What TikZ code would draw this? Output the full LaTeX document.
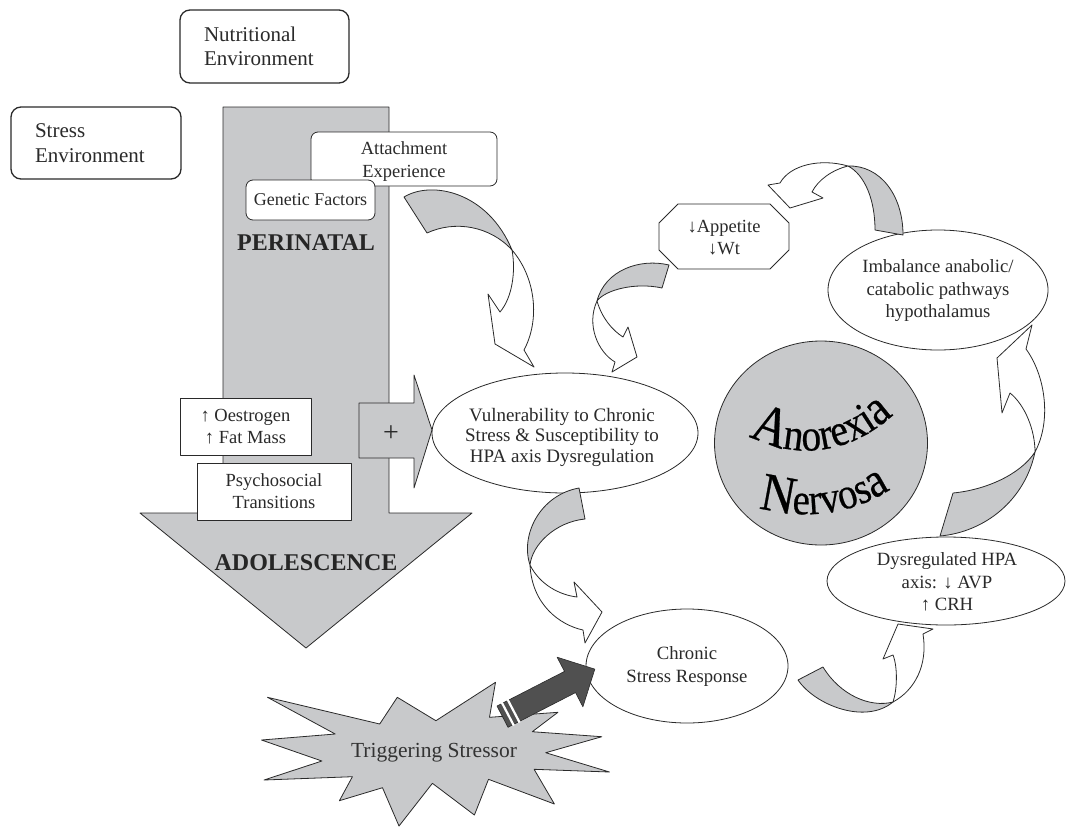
\documentclass[tikz,border=0pt]{standalone}
\usepackage{fontspec}
\setmainfont{Liberation Serif}
\newfontfamily\wordart[FakeStretch=0.88,FakeBold=0.5]{Liberation Serif}
\usetikzlibrary{decorations.text,shapes.geometric}
\definecolor{lgrey}{HTML}{C8C9CB}
\definecolor{dgrey}{HTML}{505050}
\definecolor{ink}{HTML}{2A2A2A}
\begin{document}
\begin{tikzpicture}[x=1pt,y=-1pt,line join=round,
  envbox/.style={draw=ink,line width=1.3pt,rounded corners=10pt,fill=white,align=left,inner xsep=0pt,text=ink,font=\fontsize{21}{24.5}\selectfont},
  smallbox/.style={draw=ink,line width=0.8pt,rounded corners=7pt,fill=white,align=center,inner sep=0pt,text=ink,font=\fontsize{18.5}{22.5}\selectfont},
  sqbox/.style={draw=ink,line width=0.8pt,fill=white,align=center,inner sep=0pt,text=ink,font=\fontsize{18.5}{22}\selectfont},
  oval/.style={draw=ink,line width=0.8pt,ellipse,fill=white,inner sep=0pt},
  txt/.style={align=center,inner sep=0pt,text=ink,font=\fontsize{18.7}{22.5}\selectfont},
  back/.style={draw=ink,line width=0.8pt,fill=lgrey},
  front/.style={draw=ink,line width=0.8pt,fill=white},
  bigtxt/.style={inner sep=0pt,text=black!85,font=\fontsize{24}{28}\selectfont\bfseries}
]
\useasboundingbox (0,0) rectangle (1067,827);

% big timeline arrow
\draw[ink,line width=0.8pt,fill=lgrey] (223,107) -- (389,107) -- (389,513) -- (472,513) -- (306,648) -- (140,513) -- (223,513) -- cycle;

% environment boxes
\node[envbox,minimum width=169,minimum height=73,text width=121] (nut) at (264.5,46.5) {Nutritional\\Environment};
\node[envbox,minimum width=170,minimum height=72,text width=122] (stress) at (96,143) {Stress\\Environment};

% boxes on the arrow
\node[smallbox,minimum width=186,minimum height=54] (attach) at (404,159) {};
\node[txt,font=\fontsize{18.5}{23}\selectfont] at (404,161.5) {Attachment\\Experience};
\node[smallbox,minimum width=129,minimum height=40,font=\fontsize{18}{22}\selectfont] (genetic) at (310.5,200) {Genetic Factors};
\node[bigtxt] (peri) at (306,243) {PERINATAL};
\node[sqbox,minimum width=131,minimum height=57] (oest) at (245.5,426.5) {↑ Oestrogen\\↑ Fat Mass};
\node[sqbox,minimum width=154,minimum height=57] (psycho) at (274,491.5) {Psychosocial\\Transitions};
\node[bigtxt] (adol) at (306,563) {ADOLESCENCE};

% plus arrow
\draw[ink,line width=0.8pt,fill=lgrey] (359,403) -- (414,403) -- (414,375) -- (432,430) -- (414,488) -- (414,458) -- (359,458) -- cycle;
\node[inner sep=0pt,text=ink,font=\fontsize{28}{28}\selectfont] (plus) at (391,434) {+};

% ellipses
\node[oval,minimum width=266,minimum height=120] (vul) at (565,433) {};
\node[txt,font=\fontsize{19}{20.5}\selectfont] at (562,437) {Vulnerability to Chronic\\Stress \& Susceptibility to\\HPA axis Dysregulation};

\node[oval,minimum width=202,minimum height=114] (chronic) at (687,666) {};
\node[txt,font=\fontsize{18.7}{23}\selectfont] at (687,666.5) {Chronic\\Stress Response};

\node[oval,minimum width=238,minimum height=88] (dys) at (946,581) {};
\node[txt,font=\fontsize{18.7}{22.5}\selectfont] at (947,582) {Dysregulated HPA\\axis: ↓ AVP\\↑ CRH};

\node[oval,minimum width=220,minimum height=120] (imb) at (938,290) {};
\node[txt,font=\fontsize{18.7}{22.5}\selectfont] at (938,291) {Imbalance anabolic/\\catabolic pathways\\hypothalamus};

% appetite octagon
\draw[ink,line width=0.8pt,fill=white] (678,204) -- (770,204) -- (789,223) -- (789,250) -- (770,269) -- (678,269) -- (659,250) -- (659,223) -- cycle;
\node[txt,font=\fontsize{18.5}{22}\selectfont] (app) at (724,238) {↓Appetite\\↓Wt};

% anorexia nervosa
\node[ellipse,draw=ink,line width=0.8pt,fill=lgrey,minimum width=213,minimum height=204,inner sep=0pt] (an) at (821,443) {};
\path[decorate,decoration={text along path,text align=center,text color=black,
  text={|\wordart\fontsize{56}{56}\selectfont|A|\wordart\fontsize{45}{45}\selectfont|norexi|\wordart\fontsize{50}{50}\selectfont|a}}]
  (734,426) .. controls (783,462) and (852,462) .. (906,402);
\path[decorate,decoration={text along path,text align=center,text color=black,
  text={|\wordart\fontsize{54}{54}\selectfont|N|\wordart\fontsize{44}{44}\selectfont|ervos|\wordart\fontsize{49}{49}\selectfont|a}}]
  (738,500) .. controls (788,522) and (855,522) .. (908,476);

% ribbon arrow A: attachment -> vulnerability
\draw[back] (404,197) .. controls (432,180) and (488,192) .. (512,250) .. controls (490,226) and (455,220) .. (427,233) -- cycle;
\draw[front] (512,250) .. controls (516,272) and (512,298) .. (500,312) -- (488,294) -- (495,344) -- (534,367) -- (524,350) .. controls (540,320) and (536,278) .. (512,250) -- cycle;

% ribbon arrow B: appetite -> vulnerability
\draw[back] (669,265) .. controls (640,258) and (605,270) .. (597,301) .. controls (605,290) and (635,282) .. (662,288) -- cycle;
\draw[front] (597,301) .. controls (602,318) and (612,330) .. (623,337) -- (628,327) -- (637,357) -- (612,372) -- (615,362) .. controls (598,352) and (586,325) .. (597,301) -- cycle;

% ribbon arrow C: vulnerability -> chronic
\draw[back] (579,488) .. controls (540,495) and (520,535) .. (530,565) .. controls (532,545) and (555,522) .. (585,519) -- cycle;
\draw[front] (530,565) .. controls (540,585) and (560,595) .. (577,597) -- (574,582) -- (602,612) -- (585,643) -- (583,630) .. controls (560,625) and (532,605) .. (530,565) -- cycle;

% ribbon arrow D: chronic -> dysregulated
\draw[back] (798,680) .. controls (815,705) and (865,725) .. (893,702) .. controls (870,708) and (840,695) .. (823,667) -- cycle;
\draw[front] (893,702) .. controls (897,690) and (898,668) .. (893,655) -- (883,659) -- (898,624) -- (933,629) -- (923,634) .. controls (928,665) and (915,690) .. (893,702) -- cycle;

% ribbon arrow E: dysregulated -> imbalance
\draw[back] (940,536) .. controls (985,532) and (1025,500) .. (1035,452) .. controls (1020,475) and (985,490) .. (953,493) -- cycle;
\draw[front] (1035,452) .. controls (1052,420) and (1045,375) .. (1026,349) -- (1032,325) -- (997,358) -- (1002,413) -- (1010,393) .. controls (1025,405) and (1035,430) .. (1035,452) -- cycle;

% ribbon arrow F: imbalance -> appetite
\draw[back] (903,235) .. controls (903,195) and (880,165) .. (848,166) .. controls (865,175) and (875,200) .. (875,230) -- cycle;
\draw[front] (848,166) .. controls (820,158) and (790,165) .. (780,183) -- (768,185) -- (790,208) -- (823,198) -- (812,192) .. controls (818,180) and (832,170) .. (848,166) -- cycle;

% triggering stressor burst
\draw[ink,line width=0.8pt,fill=lgrey] (267.5,697.3) -- (379.7,724) -- (397.3,697.3) -- (435.9,720.7) -- (495.5,682.3) -- (489.5,717.3) -- (557.9,712.3) -- (532.3,731.7) -- (601.8,736.7) -- (545.7,752.7) -- (609.5,772) -- (534.1,769.3) -- (554.4,804) -- (488.5,779.3) -- (474.4,815) -- (432.4,783.3) -- (399,826) -- (382.5,787.7) -- (339.4,800.7) -- (352.4,776.7) -- (264,780) -- (321.9,761) -- (261.5,740) -- (335.2,734) -- cycle;
\node[txt,font=\fontsize{21.5}{24}\selectfont,text=black!80] (trig) at (434,753) {Triggering Stressor};

% dark arrow into chronic stress response
\draw[ink,line width=0.6pt,fill=dgrey] (497,706) -- (564.5,671.4) -- (557.1,657.2) -- (594.8,669.1) -- (582.9,706.8) -- (575.5,692.6) -- (508,727.3) -- cycle;
\draw[white,line width=2.2pt] (501.8,702.5) -- (513.8,725.5);
\draw[white,line width=2.2pt] (507.6,699.5) -- (519.6,722.5);
\end{tikzpicture}
\end{document}
